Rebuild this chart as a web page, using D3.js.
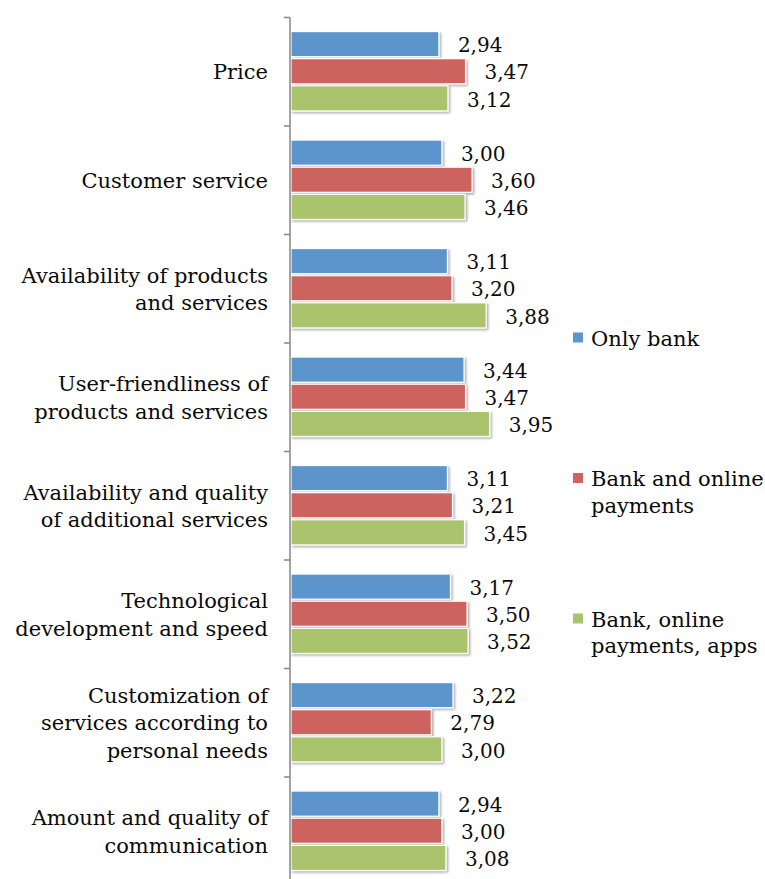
<!DOCTYPE html>
<html>
<head>
<meta charset="utf-8">
<script src="https://cdn.jsdelivr.net/npm/d3@7"></script>
<style>
  html, body { margin: 0; padding: 0; background: #fff; }
  svg { display: block; }
  text { font-family: "DejaVu Serif", "Liberation Serif", serif; fill: #0a0a0a; }
</style>
</head>
<body>
<svg id="chart" width="765" height="879"></svg>
<script>
// Satisfaction ratings by channel usage group
const categories = [
  "Price",
  "Customer service",
  "Availability of products\nand services",
  "User-friendliness of\nproducts and services",
  "Availability and quality\nof additional services",
  "Technological\ndevelopment and speed",
  "Customization of\nservices according to\npersonal needs",
  "Amount and quality of\ncommunication"
];
const seriesNames = ["Only bank", "Bank and online\npayments", "Bank, online\npayments, apps"];
const onlyBank       = [2.94, 3.00, 3.11, 3.44, 3.11, 3.17, 3.22, 2.94];
const bankOnline     = [3.47, 3.60, 3.20, 3.47, 3.21, 3.50, 2.79, 3.00];
const bankOnlineApps = [3.12, 3.46, 3.88, 3.95, 3.45, 3.52, 3.00, 3.08];
const seriesColors = ["#5b95cb", "#cd645f", "#aac46d"];

const seriesValues = [onlyBank, bankOnline, bankOnlineApps];
const svg = d3.select("#chart");

const axisX = 291;
const x = d3.scaleLinear().domain([0, 4]).range([axisX, axisX + 201.2]);
const y = d3.scaleBand().domain(categories).range([17.5, 17.5 + 108.5 * categories.length]);
const ySub = d3.scaleBand().domain(d3.range(3)).range([0, y.bandwidth()]).paddingInner(0).paddingOuter(0.5);

// soft drop shadow under bars
const defs = svg.append("defs");
const f = defs.append("filter").attr("id", "shadow").attr("x", "-5%").attr("y", "-20%").attr("width", "115%").attr("height", "160%");
f.append("feDropShadow").attr("dx", 1.5).attr("dy", 1.5).attr("stdDeviation", 1.2)
  .attr("flood-color", "#000").attr("flood-opacity", 0.35);

const fmt = v => d3.format(".2f")(v).replace(".", ",");

// bars and value labels
categories.forEach((cat, ci) => {
  const g = svg.append("g").attr("transform", `translate(0,${y(cat)})`);
  seriesValues.forEach((vals, si) => {
    const v = vals[ci];
    const top = ySub(si);
    g.append("rect")
      .attr("x", x(0))
      .attr("y", top + 0.5)
      .attr("width", x(v) - x(0))
      .attr("height", ySub.bandwidth() - 2)
      .attr("fill", seriesColors[si])
      .attr("stroke", "#fff")
      .attr("stroke-width", 1.2)
      .attr("filter", "url(#shadow)");
    g.append("text")
      .attr("x", x(v) + 19)
      .attr("y", top + ySub.bandwidth() / 2 + 0.5)
      .attr("dy", "0.36em")
      .attr("font-size", 20)
      .text(fmt(v));
  });
});

// category axis: spine with ticks at band boundaries
const axis = svg.append("g").attr("stroke", "#868686").attr("stroke-width", 1.5);
const [y0, y1] = y.range();
axis.append("line").attr("x1", axisX - 1).attr("x2", axisX - 1).attr("y1", y0).attr("y2", y1);
categories.concat([null]).forEach((c, i) => {
  const yy = c === null ? y1 : y(c);
  axis.append("line").attr("x1", axisX - 7).attr("x2", axisX - 1).attr("y1", yy).attr("y2", yy);
});

// category labels
const lineH = 27.5;
categories.forEach(cat => {
  const lines = cat.split("\n");
  const cy = y(cat) + y.bandwidth() / 2;
  const t = svg.append("text")
    .attr("text-anchor", "end")
    .attr("font-size", 21)
    .attr("x", 268)
    .attr("y", cy - (lines.length - 1) * lineH / 2);
  lines.forEach((ln, i) => {
    t.append("tspan").attr("x", 268).attr("dy", i === 0 ? "0.36em" : lineH).text(ln);
  });
});

// legend
const legend = svg.append("g");
seriesNames.forEach((name, si) => {
  const ly = 338 + si * 140.5;
  legend.append("rect")
    .attr("x", 573).attr("y", ly - 5.5).attr("width", 10).attr("height", 10)
    .attr("fill", seriesColors[si]);
  const t = legend.append("text").attr("x", 591).attr("y", ly).attr("font-size", 21);
  name.split("\n").forEach((ln, i) => {
    t.append("tspan").attr("x", 591).attr("dy", i === 0 ? "0.36em" : 26.5).text(ln);
  });
});
</script>
</body>
</html>
